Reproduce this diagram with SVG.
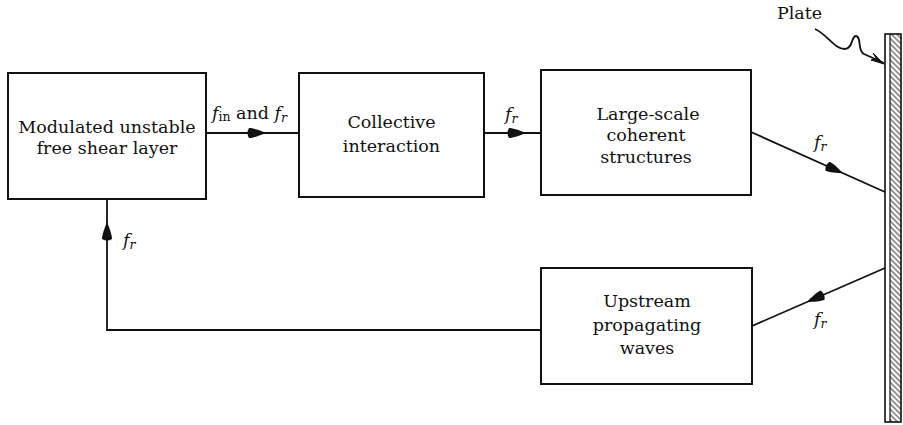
<svg xmlns="http://www.w3.org/2000/svg" xmlns:xlink="http://www.w3.org/1999/xlink" width="903" height="425" viewBox="0 0 903 425">
<style>
.box{fill:#fff;stroke:#111;stroke-width:2}
.ln{fill:none;stroke:#111;stroke-width:1.8}
.t{font-family:"DejaVu Serif","Liberation Serif",serif;font-size:17.5px;fill:#111;text-anchor:middle}
.l{font-family:"DejaVu Serif","Liberation Serif",serif;font-size:17.5px;fill:#111}
.i{font-style:italic}
.s{font-size:12.5px}
</style>
<defs>
<path id="ah" d="M0,0 C-6,-2.5 -13,-5 -17,-5 Q-20,0 -17,5 C-13,5 -6,2.5 0,0Z" fill="#111"/>
<pattern id="hatch" patternUnits="userSpaceOnUse" width="10" height="3.8" patternTransform="rotate(45)">
<line x1="0" y1="1.9" x2="10" y2="1.9" stroke="#111" stroke-width="0.9"/>
</pattern>
</defs>
<g id="connectors">
<path class="ln" d="M206,133 H299"/>
<use xlink:href="#ah" transform="translate(266,133)"/>
<path class="ln" d="M484,133 H541"/>
<use xlink:href="#ah" transform="translate(526,133)"/>
<path class="ln" d="M751,132 L885,192"/>
<use xlink:href="#ah" transform="translate(843,173.2) rotate(24.1)"/>
<path class="ln" d="M885,268 L752,326"/>
<use xlink:href="#ah" transform="translate(807,302) rotate(156.4)"/>
<path class="ln" d="M541,330 H107 V199"/>
<use xlink:href="#ah" transform="translate(107,222) rotate(-90)"/>
<path class="ln" d="M815,29 C828,35 834,49 845,49 C853,49 851,36 856,36 C862,37 857,51 864,54 L884,63" stroke-width="1.4"/>
<path d="M884,64 L873,53 L876,58 L871,60 Z" fill="#111" stroke="#111" stroke-width="1"/>
</g>
<g id="labels">
<text class="l" x="212" y="119"><tspan class="i">f</tspan><tspan class="s" dy="2">in</tspan><tspan dy="-2"> and </tspan><tspan class="i">f</tspan><tspan class="i s" dy="3">r</tspan></text>
<text class="l" x="505" y="120"><tspan class="i">f</tspan><tspan class="i s" dy="3">r</tspan></text>
<text class="l" x="814" y="148"><tspan class="i">f</tspan><tspan class="i s" dy="3">r</tspan></text>
<text class="l" x="814" y="325"><tspan class="i">f</tspan><tspan class="i s" dy="3">r</tspan></text>
<text class="l" x="123" y="246"><tspan class="i">f</tspan><tspan class="i s" dy="3">r</tspan></text>
<text class="l" x="777" y="19">Plate</text>
</g>
<g id="n1">
<rect class="box" x="8" y="73" width="198" height="126"/>
<text class="t" x="107" y="133">Modulated unstable</text>
<text class="t" x="107" y="154">free shear layer</text>
</g>
<g id="n2">
<rect class="box" x="299" y="73" width="185" height="124"/>
<text class="t" x="391.5" y="128">Collective</text>
<text class="t" x="391.5" y="152">interaction</text>
</g>
<g id="n3">
<rect class="box" x="541" y="70" width="210" height="125"/>
<text class="t" x="648" y="120">Large-scale</text>
<text class="t" x="646" y="141">coherent</text>
<text class="t" x="646" y="163">structures</text>
</g>
<g id="n4">
<rect class="box" x="541" y="268" width="211" height="116"/>
<text class="t" x="647" y="307">Upstream</text>
<text class="t" x="647" y="331">propagating</text>
<text class="t" x="647" y="354">waves</text>
</g>
<g id="plate">
<rect x="890" y="34" width="11" height="388" fill="url(#hatch)"/>
<rect x="885" y="34" width="16" height="388" fill="none" stroke="#111" stroke-width="1.6"/>
<line x1="890" y1="34" x2="890" y2="422" stroke="#111" stroke-width="1.2"/>
</g>
</svg>
